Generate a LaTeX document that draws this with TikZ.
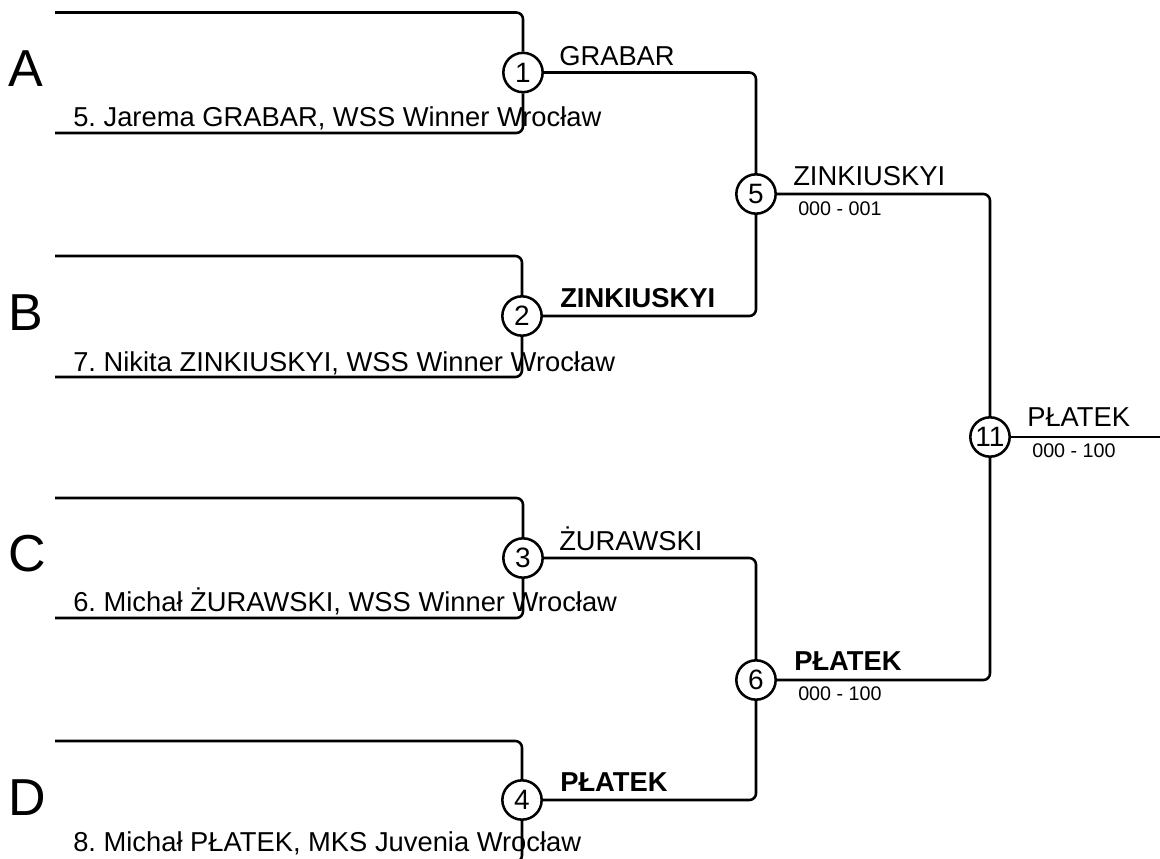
\documentclass[tikz,border=0pt]{standalone}
\usepackage{fontspec}
\setmainfont{Liberation Sans}
\frenchspacing
\begin{document}
\begin{tikzpicture}[x=0.75pt, y=-0.75pt, line width=1.9pt,
    match/.style={draw, circle, fill=white, minimum size=29.5pt, inner sep=0pt,
      font=\fontsize{21}{23}\selectfont},
    bline/.style={rounded corners=5pt},
    player/.style={anchor=base west, inner sep=0pt, font=\fontsize{20.5}{24}\selectfont},
    winner/.style={anchor=base west, inner sep=0pt, font=\fontsize{20.5}{24}\selectfont},
    score/.style={anchor=base west, inner sep=0pt, font=\fontsize{14.8}{17}\selectfont},
    group/.style={anchor=west, inner sep=0pt, font=\fontsize{39}{42}\selectfont}]

    \useasboundingbox (0,0) rectangle (1160,859);

    % --- Group letters ---
    \node[group] (gA) at (7,69) {A};
    \node[group] (gB) at (7,313) {B};
    \node[group] (gC) at (7,554) {C};
    \node[group] (gD) at (7,798) {D};

    % --- Players (first round) ---
    \node[player] (pA) at (72,127) {5. Jarema GRABAR, WSS Winner Wrocław};
    \node[player] (pB) at (72,371) {7. Nikita ZINKIUSKYI, WSS Winner Wrocław};
    \node[player] (pC) at (72,611) {6. Michał ŻURAWSKI, WSS Winner Wrocław};
    \node[player] (pD) at (72,851) {8. Michał PŁATEK, MKS Juvenia Wrocław};

    % Free ends of the brackets
    \coordinate (tA) at (55,12.5);  \coordinate (bA) at (55,133);
    \coordinate (tB) at (55,256);   \coordinate (bB) at (55,377);
    \coordinate (tC) at (55,498);   \coordinate (bC) at (55,618);
    \coordinate (tD) at (55,741);   \coordinate (bD) at (55,862);

    % --- Matches ---
    \node[match] (m1) at (523,72.5) {1};
    \node[match] (m2) at (522,316) {2};
    \node[match] (m3) at (523,558) {3};
    \node[match] (m4) at (522,800) {4};
    \node[match] (m5) at (756,194) {5};
    \node[match] (m6) at (756,680) {6};
    \node[match] (m11) at (990,437) {11};
    \coordinate (fin) at (1160,437);

    % --- Bracket lines ---
    \draw[bline] (tA) -| (m1);  \draw[bline] (bA) -| (m1);
    \draw[bline] (tB) -| (m2);  \draw[bline] (bB) -| (m2);
    \draw[bline] (tC) -| (m3);  \draw[bline] (bC) -| (m3);
    \draw[bline] (tD) -| (m4);  \draw[bline] (bD) -| (m4);

    \draw[bline] (m1) -| (m5);  \draw[bline] (m2) -| (m5);
    \draw[bline] (m3) -| (m6);  \draw[bline] (m4) -| (m6);
    \draw[bline] (m5) -| (m11); \draw[bline] (m6) -| (m11);
    \draw (m11) -- (fin);

    % --- Winners and scores ---
    \node[winner] (w1) at (558,66) {GRABAR};
    \node[winner] (w2) at (559,307) {\bfseries ZINKIUSKYI};
    \node[winner] (w3) at (558,550) {ŻURAWSKI};
    \node[winner] (w4) at (559,791) {\bfseries PŁATEK};
    \node[winner] (w5) at (792,186) {ZINKIUSKYI};
    \node[score] (s5) at (797,216) {000 - 001};
    \node[winner] (w6) at (793,670) {\bfseries PŁATEK};
    \node[score] (s6) at (797,700) {000 - 100};
    \node[winner] (w11) at (1026,426) {PŁATEK};
    \node[score] (s11) at (1031,457) {000 - 100};

  \end{tikzpicture}
\end{document}
